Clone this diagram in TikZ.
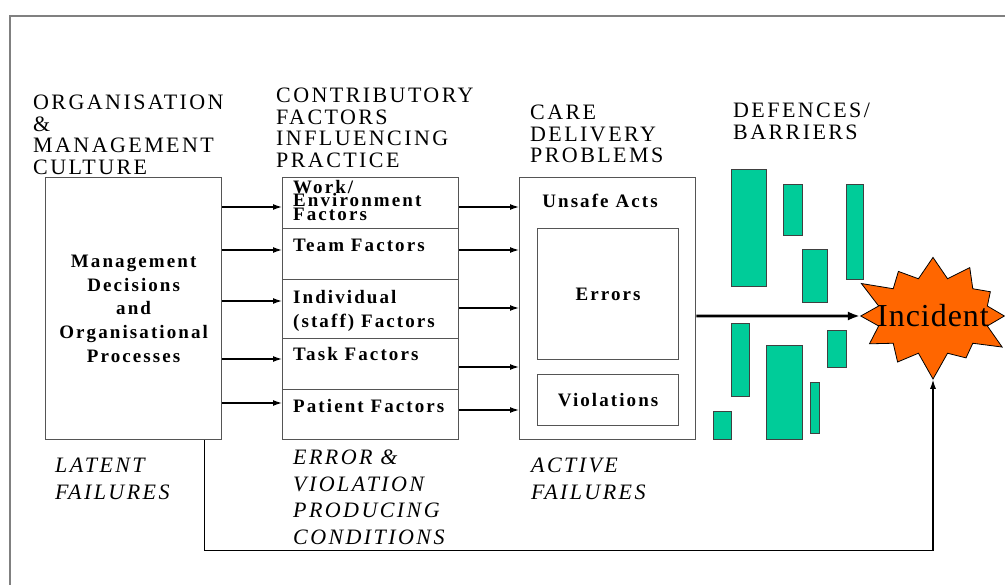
\documentclass[tikz,border=0pt]{standalone}
\usepackage{fontspec}
\setmainfont{Liberation Serif}
\newfontfamily\spaced[LetterSpace=11]{Liberation Serif}
\newfontfamily\burstfont[LetterSpace=3]{Liberation Serif}
\usepackage{tikz}
\usetikzlibrary{shapes,shapes.symbols,arrows.meta,positioning}
\definecolor{barrierfill}{RGB}{0,204,153}
\definecolor{burstfill}{RGB}{255,102,0}
\definecolor{edgegray}{RGB}{85,85,85}
\tikzstyle{heading} =[anchor=north west, inner sep=0pt, align=left, font=\spaced\fontsize{22}{21.5}\selectfont]
\tikzstyle{failure} =[anchor=north west, inner sep=0pt, align=left, font=\spaced\itshape\fontsize{22}{26.5}\selectfont]
\tikzstyle{stage} =[draw=edgegray, line width=1.3pt, rectangle, inner sep=0pt, anchor=north west, align=center, font=\spaced\bfseries\fontsize{19}{23.75}\selectfont]
\tikzstyle{factor} =[inner sep=0pt, align=left, font=\spaced\bfseries\fontsize{19}{24}\selectfont]
\tikzstyle{defence} =[draw=black!75, fill=barrierfill, line width=0.8pt]
\tikzstyle{link} =[-{Latex[length=9pt,width=6pt]}, line width=1.3pt]

\begin{document}
\begin{tikzpicture}[x=1pt,y=-1pt]
\useasboundingbox (0,0) rectangle (1005,585);
\draw[gray, line width=2pt] (10,585) -- (10,16) -- (1005,16);

% headings
\node[heading] (orghead) at (33,95) {ORGANISATION\\\&\\MANAGEMENT\\CULTURE};
\node[heading] (cfhead) at (276,88) {CONTRIBUTORY\\FACTORS\\INFLUENCING\\PRACTICE};
\node[heading] (cdphead) at (530,105) {CARE\\DELIVERY\\PROBLEMS};
\node[heading] (defhead) at (733,103) {DEFENCES/\\BARRIERS};

% organisation box
\node[stage, minimum width=176pt, minimum height=262pt] (mgmt) at (45,177)
  {Management\\Decisions\\and\\Organisational\\Processes};

% contributory factors
\node[stage, minimum width=176pt, minimum height=51pt] (work) at (282,177) {};
\node[stage, minimum width=176pt, minimum height=51pt] (team) at (282,228) {};
\node[stage, minimum width=176pt, minimum height=59pt] (indiv) at (282,279) {};
\node[stage, minimum width=176pt, minimum height=51pt] (task) at (282,338) {};
\node[stage, minimum width=176pt, minimum height=50pt] (patient) at (282,389) {};
\node[factor, anchor=north west, font=\spaced\bfseries\fontsize{19}{13.5}\selectfont] at (293,180) {Work/\\Environment\\Factors};
\node[factor, anchor=base west] at (293,252) {Team Factors};
\node[factor, anchor=north west] at (293,290) {Individual\\(staff) Factors};
\node[factor, anchor=base west] at (293,361) {Task Factors};
\node[factor, anchor=base west] at (293,413) {Patient Factors};

% care delivery problems
\node[stage, minimum width=176pt, minimum height=262pt] (care) at (519,177) {};
\node[factor, anchor=base] at (600,208) {Unsafe Acts};
\node[stage, minimum width=141pt, minimum height=131pt] (errors) at (537,228) {Errors};
\node[stage, minimum width=141pt, minimum height=51pt] (violations) at (537,374) {Violations};

% defences
\foreach \xa/\ya/\xb/\yb in {731/169/766/286, 783/184/802/235, 802/249/827/302, 846/184/863/279,
  731/323/749/396, 766/345/802/439, 827/330/846/367, 810/382/819/433, 713/411/731/439}
  \draw[defence] (\xa,\ya) rectangle (\xb,\yb);

% incident
\node[starburst, fill=burstfill, draw=black, line width=0.8pt, starburst points=12,
  starburst point height=28pt, inner xsep=-16pt, inner ysep=16pt,
  font=\burstfont\fontsize{32}{32}\selectfont] (incident) at (933,316) {Incident};

% connectors
\foreach \y in {207,250,301,359,403}
  \draw[link] (mgmt.east |- 0,\y) -- (work.west |- 0,\y);
\foreach \y in {207,250,308,367,410}
  \draw[link] (work.east |- 0,\y) -- (care.west |- 0,\y);
\draw[-{Latex[length=12pt,width=9pt]}, line width=2.8pt] (care.east |- incident) -- (incident);
\draw[link, line width=1.1pt] ([xshift=-18pt]mgmt.south east) -- ++(0,110) -| (incident);

% failures
\node[failure] (latent) at (55,458) {LATENT\\FAILURES};
\node[failure] (evpc) at (293,450) {ERROR \&\\VIOLATION\\PRODUCING\\CONDITIONS};
\node[failure] (active) at (531,458) {ACTIVE\\FAILURES};
\end{tikzpicture}
\end{document}
